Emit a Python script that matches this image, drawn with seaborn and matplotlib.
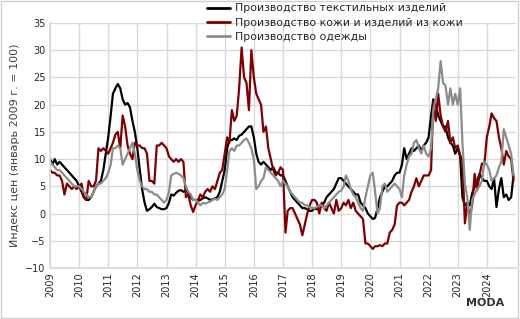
import numpy as np
import pandas as pd
import matplotlib
matplotlib.use('Agg')
import matplotlib.pyplot as plt
import seaborn as sns

textile = [
    10, 9, 10, 9, 9.5, 9, 8.5, 8, 7.5, 7, 6.5, 6,
    5, 4, 3, 2.5, 2.5, 3, 4, 5, 5.5, 6, 8, 11,
    14, 18, 22, 23, 23.8, 23, 21, 20, 20.3, 19.5, 17, 15,
    12, 8, 4.5, 2, 0.5, 0.8, 1.2, 1.8, 1.2, 1, 0.8, 0.8,
    1, 2, 3.5, 3.3, 3.8, 4.2, 4.3, 4, 4.2, 3.8, 3, 2.5,
    2.5, 2.3, 2.5, 2.8, 3, 2.8, 2.5, 2.6, 2.8, 3, 4, 6,
    8, 12, 13.5, 13.5, 13.8, 13.5, 14.3, 14.5, 15, 15.5, 16, 16,
    14, 11, 9.5, 9, 9.5, 9, 8.5, 8, 8.5, 7.5, 7.5, 7,
    7, 6, 5, 4, 3, 2.5, 2, 1.5, 1, 1, 0.8, 0.5,
    0.5, 1, 0.8, 1.5, 1.5, 2, 3, 3.5, 4, 4.5, 5.5, 6.5,
    6.5, 6, 5.5, 5, 4.5, 4, 3.5, 3.5, 2, 1.5, 1, 0,
    -0.5, -1, -0.8, 1, 3, 4, 5, 5, 5.5, 6, 7, 7.5,
    7.5, 9, 12, 10, 11, 12, 11.5, 12, 12.5, 11.5, 12.5, 13,
    14, 18, 21, 20, 18, 17, 16, 16, 14, 13, 12.5, 11,
    12, 10.5, 3, 1.5, 2, 1.5, 3.7, 5, 6, 7.3, 6.5, 6,
    6, 5, 4.5, 6.5, 1.2, 4.5, 6.5, 3, 3.5, 2.5, 3, 7,
]

leather = [
    8, 7.5, 7.5, 7, 7, 6, 3.5, 5.5, 5, 4.5, 5, 4.5,
    5, 5.5, 3, 2.5, 6, 5, 5, 6, 12, 11.5, 12, 11.5,
    11, 12, 13, 14.5, 15, 12, 18, 16, 12.5, 11, 10, 13,
    12.5, 12.5, 12, 12, 11, 6, 6, 5.5, 12.5, 12.5, 13, 12.5,
    12, 10.5, 10, 9.5, 10, 9.5, 10, 9.5, 3, 3.5, 1.5, 0.3,
    1.5, 2.5, 3.5, 3, 4, 4.5, 4, 5, 4.5, 6, 7.5, 8,
    11, 14, 13, 19, 17, 18, 23, 30.5, 25, 24, 19, 30,
    25, 22, 21, 20, 15, 16, 12, 10, 8, 7, 7.5, 8.5,
    8, -3.5, 0.5, 1, 1, 0, -1, -2, -4, -2, 0, 1.5,
    2.5, 2.5, 2, 0, 2, 1, 0.5, 2, 1, 0, 2.5, 0.5,
    1, 2, 1.5, 2.5, 1, 2, 0.5, 0, -0.5, -1, -5.5, -5.5,
    -6, -6.5, -6, -6, -5.8, -6, -5.5, -5.5, -3.5, -3, -2, 1.5,
    2, 2, 1.5, 2, 2.5, 4, 5, 6.5, 5, 6, 7, 7,
    7, 8, 20.5, 17, 22, 18, 16, 15, 17, 13, 14, 12,
    12.5, 10.7, 9.7, -1.8, 1.8, -0.5, 1.5, 7.3, 4.3, 7, 9.2, 9,
    14, 16, 18.4, 17.5, 17, 14, 12, 9, 11.5, 10.5, 10, 6,
]

clothing = [
    9.5, 9, 8.5, 8, 8, 7.5, 7, 6.5, 6, 5.5, 5, 5,
    5, 4.5, 4, 3.5, 3, 3, 4, 5, 5.5, 5.5, 6, 6.5,
    7.5, 9, 12, 12, 12.5, 12, 9, 10, 11, 12, 13, 11,
    8, 6, 5, 4.5, 4.5, 4, 4, 3.5, 3.5, 3, 2.5, 2,
    2.5, 4, 7, 7.3, 7.5, 7.3, 7, 6.5, 5, 4, 3.5, 2.5,
    2.5, 2, 1.5, 2, 1.8, 2, 2.2, 2.5, 2.7, 2.5, 3, 3.5,
    4.5, 8, 11.5, 12, 11.5, 12.5, 12.5, 13, 13.5, 13.8, 13, 12,
    10, 4.5, 5, 6, 6.5, 8.5, 8, 7.5, 7, 6.5, 6, 5,
    6, 5.5, 5, 4, 3.5, 3, 2.5, 2, 2, 1.5, 1.5, 1.2,
    1, 1, 1.2, 1.5, 1.5, 1, 1.5, 2, 2.5, 3, 3.5, 4,
    4.2, 5, 7, 6, 4.5, 3.5, 3, 2, 1, 0.5, 3, 5,
    7, 7.5, 4, 0, 1, 5, 5.5, 4, 4.5, 5, 5.5, 5,
    4.5, 3, 7, 9, 10.5, 11, 13, 13.5, 12, 11, 12.5, 11,
    10.5, 12, 19, 21, 23, 28, 24, 23.5, 20, 23, 20, 22,
    20, 23, 13, 5.5, 3, -3, 2.5, 3.5, 4.5, 5, 6, 9.5,
    9, 8, 6, 6.5, 7, 8.5, 9.5, 15.5, 14, 12.5, 11, 7,
]

labels = ['Производство текстильных изделий',
          'Производство кожи и изделий из кожи',
          'Производство одежды']
colors = ['#000000', '#7f0000', '#8c8c8c']
years = list(range(2009, 2025))


def main():
    dates = pd.date_range('2009-01-01', periods=len(textile), freq='MS')
    df = pd.concat([
        pd.DataFrame({'date': dates, 'value': vals, 'series': name})
        for name, vals in zip(labels, [textile, leather, clothing])
    ])

    sns.set_theme(style='whitegrid')
    plt.rcParams['font.family'] = ['DejaVu Sans']

    fig = plt.figure(figsize=(5.2, 3.19), dpi=100)
    ax = fig.add_axes([50 / 520, 1 - 268 / 319, 466 / 520, 245 / 319])
    sns.lineplot(data=df, x='date', y='value', hue='series', palette=colors,
                 linewidth=1.6, ax=ax, legend=False)

    ax.set_xlim(pd.Timestamp('2009-01-01'), pd.Timestamp('2025-01-01'))
    ax.set_ylim(-10, 35)
    ax.set_yticks(np.arange(-10, 36, 5))
    ax.set_xticks([pd.Timestamp(f'{y}-01-01') for y in years])
    ax.set_xticklabels([str(y) for y in years], rotation=90)
    ax.tick_params(labelsize=7, colors='#262626', length=0, pad=3)
    ax.grid(color='#d9d9d9', linewidth=1)
    for side in ['top', 'right']:
        ax.spines[side].set_visible(False)
    for side in ['left', 'bottom']:
        ax.spines[side].set_color('#d9d9d9')
    ax.set_xlabel('')
    ax.set_ylabel('Индекс цен (январь 2009 г. = 100)', fontsize=8, color='#404040', labelpad=4)

    handles = [plt.Line2D([], [], color=c, lw=2) for c in colors]
    fig.legend(handles, labels, loc='upper left', bbox_to_anchor=(200 / 520, 1.01),
               frameon=False, fontsize=7.8, handlelength=2.2, handletextpad=0.4,
               labelspacing=0.4, borderaxespad=0.2)

    fig.text(0.97, 0.035, 'MODA', ha='right', va='bottom', fontsize=8,
             weight='bold', color='#333333')
    fig.patches.append(plt.Rectangle((0.002, 0.003), 0.995, 0.994, transform=fig.transFigure,
                                     fill=False, edgecolor='#d0d0d0', lw=1))

    fig.savefig('out.png', dpi=100)


if __name__ == '__main__':
    main()
